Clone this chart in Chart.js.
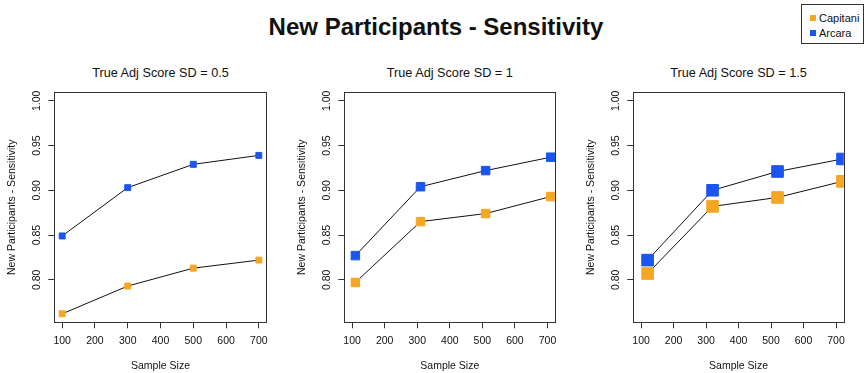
<!DOCTYPE html>
<html>
<head>
<meta charset="utf-8">
<script src="https://cdn.jsdelivr.net/npm/chart.js@4"></script>
<style>
  body { margin: 0; background: #fff; }
  #wrap { position: relative; width: 866px; height: 373px; overflow: hidden; font-family: "Liberation Sans", Arial, sans-serif; color: #111; }
  #main-title { position: absolute; left: 0; width: 872px; top: 12px; text-align: center; font-size: 24px; font-weight: bold; line-height: 30px; }
  .panel-title { position: absolute; top: 64px; width: 220px; text-align: center; font-size: 12.7px; line-height: 18px; }
  canvas { position: absolute; top: 0; }
  #legend { position: absolute; left: 801px; top: 4px; width: 61px; height: 38px; border: 1px solid #333; font-size: 11px; }
  .item { position: absolute; left: 8px; line-height: 14px; }
  .sw { display: inline-block; width: 6px; height: 6px; margin-right: 3px; vertical-align: 1px; }
</style>
</head>
<body>
<div id="wrap">
  <div id="main-title">New Participants - Sensitivity</div>
  <div id="legend">
    <div class="item" style="top:6px"><span class="sw" style="background:#F5A623"></span>Capitani</div>
    <div class="item" style="top:21px"><span class="sw" style="background:#1A55F0"></span>Arcara</div>
  </div>
</div>
<script>
// data
const panelTitles = ["True Adj Score SD = 0.5", "True Adj Score SD = 1", "True Adj Score SD = 1.5"];
const seriesNames = ["Capitani", "Arcara"];
const xValues1 = [100, 300, 500, 700];
const xValues2 = [110, 310, 510, 710];
const xValues3 = [120, 320, 520, 720];
const capitani1 = [0.762, 0.793, 0.813, 0.822];
const capitani2 = [0.797, 0.865, 0.874, 0.893];
const capitani3 = [0.807, 0.882, 0.892, 0.910];
const arcara1 = [0.849, 0.903, 0.929, 0.939];
const arcara2 = [0.827, 0.904, 0.922, 0.937];
const arcara3 = [0.822, 0.900, 0.921, 0.935];
const xTicks = [100, 200, 300, 400, 500, 600, 700];
const yTicks = [0.80, 0.85, 0.90, 0.95, 1.00];
const xRange = [76, 724];
const yRange = [0.7525, 1.0095];

const colors = ["#F5A623", "#1A55F0"];
const markerRadius = [4.2, 6, 8.2];
// canvas left, width, plot width
const panels = [
  { left: 0, width: 290, plotW: 212.4 },
  { left: 290, width: 290, plotW: 211 },
  { left: 579, width: 287, plotW: 210.5 }
];

Chart.defaults.font.family = '"Liberation Sans", Arial, sans-serif';
Chart.defaults.color = "#111";

const frame = {
  id: "frame",
  afterDraw(chart) {
    const a = chart.chartArea;
    const ctx = chart.ctx;
    ctx.save();
    ctx.strokeStyle = "#333";
    ctx.lineWidth = 1;
    ctx.strokeRect(Math.round(a.left) + 0.5, Math.round(a.top) + 0.5, Math.round(a.right - a.left), Math.round(a.bottom - a.top));
    ctx.restore();
  }
};

const wrap = document.getElementById("wrap");
const allX = [xValues1, xValues2, xValues3];
const allCap = [capitani1, capitani2, capitani3];
const allArc = [arcara1, arcara2, arcara3];

panels.forEach((p, i) => {
  const t = document.createElement("div");
  t.className = "panel-title";
  t.textContent = panelTitles[i];
  t.style.left = (p.left + 54.3 + p.plotW / 2 - 110) + "px";
  wrap.appendChild(t);

  const cv = document.createElement("canvas");
  cv.width = p.width;
  cv.height = 373;
  cv.style.left = p.left + "px";
  wrap.appendChild(cv);

  const series = [allCap[i], allArc[i]];
  new Chart(cv, {
    type: "line",
    data: {
      datasets: series.map((vals, k) => ({
        label: seriesNames[k],
        data: vals.map((v, j) => ({ x: allX[i][j], y: v })),
        borderColor: "#111",
        borderWidth: 1,
        pointStyle: "rect",
        pointRadius: markerRadius[i],
        pointHoverRadius: markerRadius[i],
        pointBackgroundColor: colors[k],
        pointBorderColor: colors[k],
        pointBorderWidth: 1,
        clip: 0
      }))
    },
    options: {
      responsive: false,
      animation: false,
      events: [],
      layout: { padding: { left: 0, top: 92.3, bottom: 0, right: p.width - 54.3 - p.plotW } },
      plugins: { legend: { display: false }, tooltip: { enabled: false } },
      scales: {
        x: {
          type: "linear",
          min: xRange[0],
          max: xRange[1],
          afterBuildTicks: (s) => { s.ticks = xTicks.map(v => ({ value: v })); },
          afterFit: (s) => { s.height = 373 - 322.3; },
          border: { display: false },
          grid: { display: true, drawOnChartArea: false, drawTicks: true, tickLength: 6, color: "#333" },
          ticks: { font: { size: 10.5 }, padding: 7, maxRotation: 0, autoSkip: false },
          title: { display: true, text: "Sample Size", font: { size: 10.5 }, padding: { top: 0, bottom: 0.7 } }
        },
        y: {
          min: yRange[0],
          max: yRange[1],
          afterBuildTicks: (s) => { s.ticks = yTicks.map(v => ({ value: v })); },
          afterFit: (s) => { s.width = 54.3; },
          border: { display: false },
          grid: { display: true, drawOnChartArea: false, drawTicks: true, tickLength: 6, color: "#333" },
          ticks: {
            font: { size: 10.5 }, padding: 1.4, minRotation: 90, maxRotation: 90,
            crossAlign: "center", autoSkip: false,
            callback: (v) => Number(v).toFixed(2)
          },
          title: { display: true, text: "New Participants - Sensitivity", font: { size: 10.5 }, padding: { top: 5.4, bottom: 0 } }
        }
      }
    },
    plugins: [frame]
  });
});
</script>
</body>
</html>
